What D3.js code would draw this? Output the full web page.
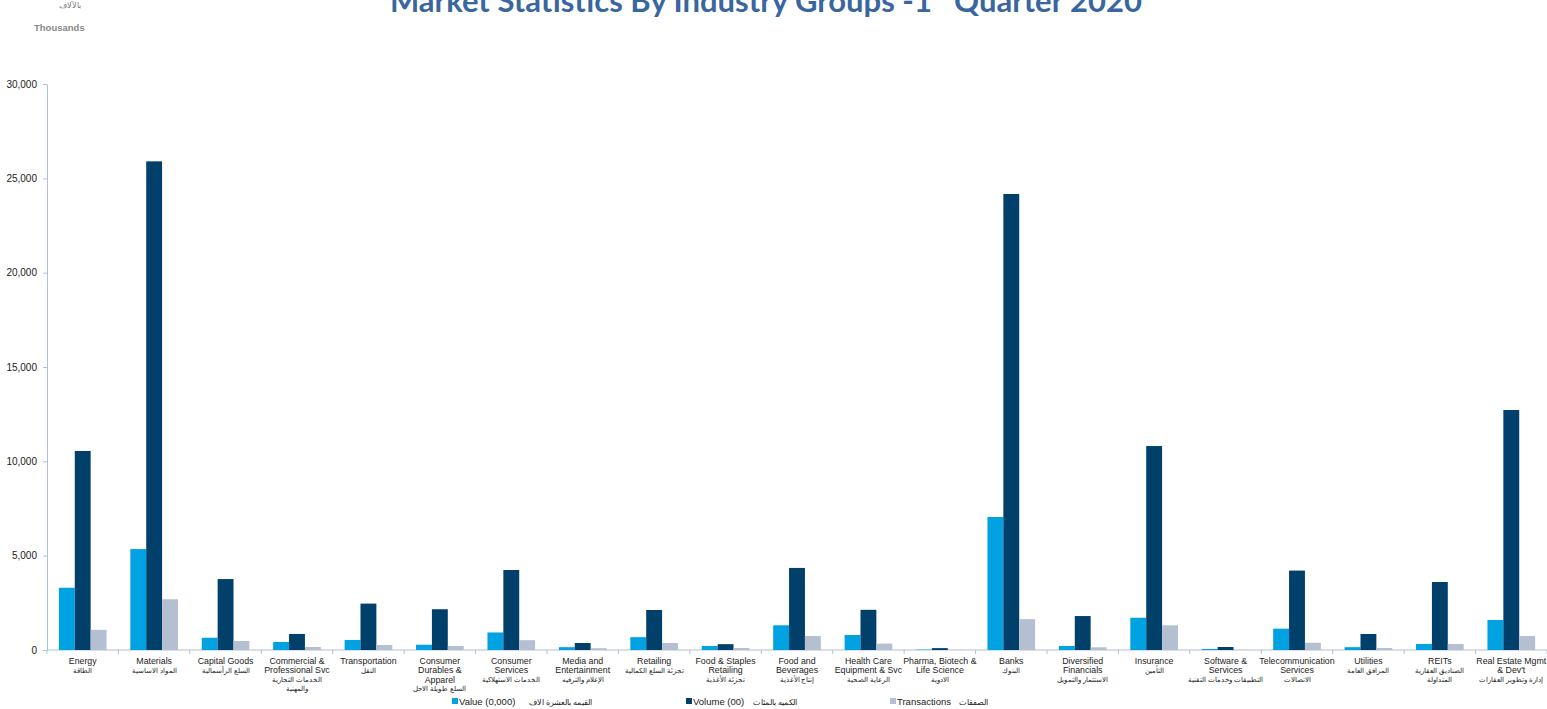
<!DOCTYPE html>
<html>
<head>
<meta charset="utf-8">
<script src="https://cdn.jsdelivr.net/npm/d3@7"></script>
<style>
  body { margin: 0; background: #fff; }
  svg { display: block; font-family: "Liberation Sans", Arial, sans-serif; }
  .axis path, .axis line { stroke: #b3bfd3; }
  .yAxis text { font-size: 10px; fill: #222; }
</style>
</head>
<body>
<div class="chart"></div>
<script>
// category labels: english lines / arabic lines
const catEn = [
  ["Energy"], ["Materials"], ["Capital Goods"], ["Commercial &", "Professional Svc"],
  ["Transportation"], ["Consumer", "Durables &", "Apparel"], ["Consumer", "Services"],
  ["Media and", "Entertainment"], ["Retailing"], ["Food & Staples", "Retailing"],
  ["Food and", "Beverages"], ["Health Care", "Equipment & Svc"], ["Pharma, Biotech &", "Life Science"],
  ["Banks"], ["Diversified", "Financials"], ["Insurance"], ["Software &", "Services"],
  ["Telecommunication", "Services"], ["Utilities"], ["REITs"], ["Real Estate Mgmt", "& Dev't"]
];
const catAr = [
  ["الطاقة"], ["المواد الاساسية"], ["السلع الرأسمالية"], ["الخدمات التجارية", "والمهنية"],
  ["النقل"], ["السلع طويلة الاجل"], ["الخدمات الاستهلاكية"],
  ["الإعلام والترفيه"], ["تجزئة السلع الكمالية"], ["تجزئة الأغذية"],
  ["إنتاج الأغذية"], ["الرعاية الصحية"], ["الادوية"],
  ["البنوك"], ["الاستثمار والتمويل"], ["التأمين"], ["التطبيقات وخدمات التقنية"],
  ["الاتصالات"], ["المرافق العامة"], ["الصناديق العقارية", "المتداولة"], ["إدارة وتطوير العقارات"]
];

// thousands
const valueData = [3300, 5350, 650, 424, 530, 280, 930, 150, 680, 212, 1310, 795, 20, 7050, 212, 1710, 53, 1130, 150, 318, 1590];
const volumeData = [10550, 25900, 3760, 850, 2460, 2160, 4240, 371, 2120, 310, 4350, 2130, 100, 24170, 1800, 10810, 159, 4210, 848, 3604, 12720];
const transData = [1070, 2690, 477, 160, 265, 212, 520, 95, 371, 106, 742, 340, 10, 1635, 143, 1309, 10, 385, 106, 318, 742];

const seriesNames = ["value", "volume", "trans"];
const legendEn = ["Value  (0,000)", "Volume (00)", "Transactions"];
const legendAr = ["القيمه بالعشرة الاف", "الكميه بالمئات", "الصفقات"];
const yTicks = [0, 5000, 10000, 15000, 20000, 25000, 30000];

const colours = { value: "#00a2e2", volume: "#00406b", trans: "#b5bfd2" };

const width = 1547, height = 709;
const margin = { top: 84, right: 0, bottom: 59, left: 47 };

let svg = d3.select(".chart").append("svg")
  .attr("width", width)
  .attr("height", height);

let rows = catEn.map((c, i) => ({
  i: i,
  value: valueData[i],
  volume: volumeData[i],
  trans: transData[i]
}));

let x0 = d3.scaleBand()
  .domain(d3.range(catEn.length))
  .range([margin.left, width - margin.right])
  .paddingInner(0.333)
  .paddingOuter(0.1665);

let x1 = d3.scaleBand()
  .domain(seriesNames)
  .range([0, x0.bandwidth()]);

let y = d3.scaleLinear()
  .domain([0, 30000])
  .range([height - margin.bottom, margin.top]);

// title (cut by the top edge like the source)
let title = svg.append("text")
  .attr("x", 766)
  .attr("y", 12)
  .style("text-anchor", "middle")
  .style("font-family", "Lato, 'Open Sans', sans-serif")
  .style("font-weight", "bold")
  .style("font-size", "31px")
  .style("fill", "#3a66a0");
title.append("tspan").text("Market Statistics By Industry Groups -1");
title.append("tspan").attr("dy", -12).style("font-size", "18px").text("st");
title.append("tspan").attr("dy", 12).text(" Quarter 2020");

svg.append("text")
  .attr("x", 70).attr("y", 8)
  .style("text-anchor", "middle")
  .style("font-size", "7.5px")
  .style("fill", "#777")
  .text("بالآلاف");

svg.append("text")
  .attr("x", 34).attr("y", 31)
  .style("font-size", "9.5px")
  .style("font-weight", "bold")
  .style("fill", "#888")
  .text("Thousands");

// axes
svg.append("g")
  .attr("class", "axis yAxis")
  .attr("transform", `translate(${margin.left},0)`)
  .call(d3.axisLeft(y).tickValues(yTicks).tickSize(4).tickSizeOuter(0).tickPadding(6).tickFormat(d3.format(",")));

let xAxis = svg.append("g")
  .attr("class", "axis xAxis")
  .attr("transform", `translate(0,${y(0)})`);
xAxis.append("line")
  .attr("x1", margin.left).attr("x2", width)
  .attr("y1", 0).attr("y2", 0);
xAxis.selectAll("line.tick")
  .data(d3.range(catEn.length + 1))
  .enter().append("line")
  .attr("class", "tick")
  .attr("x1", d => margin.left + d * x0.step())
  .attr("x2", d => margin.left + d * x0.step())
  .attr("y1", 0).attr("y2", 4);

// bars
let groups = svg.selectAll("g.group")
  .data(rows)
  .enter().append("g")
  .attr("class", "group")
  .attr("transform", d => `translate(${x0(d.i)},0)`);

groups.selectAll("rect")
  .data(d => seriesNames.map(k => ({ key: k, v: d[k] })))
  .enter().append("rect")
  .attr("x", d => x1(d.key))
  .attr("width", x1.bandwidth())
  .attr("y", d => y(d.v))
  .attr("height", d => y(0) - y(d.v))
  .style("fill", d => colours[d.key]);

// category labels
let labels = svg.selectAll("g.catLabel")
  .data(rows)
  .enter().append("g")
  .attr("class", "catLabel")
  .attr("transform", d => `translate(${x0(d.i) + x0.bandwidth() / 2},0)`);

labels.each(function (d) {
  let g = d3.select(this);
  let lineY = 664;
  catEn[d.i].forEach(t => {
    g.append("text").attr("y", lineY)
      .style("text-anchor", "middle")
      .style("font-size", "8.8px")
      .style("fill", "#222")
      .text(t);
    lineY += 9.3;
  });
  lineY -= 0.6;
  catAr[d.i].forEach(t => {
    g.append("text").attr("y", lineY)
      .attr("direction", "rtl")
      .style("text-anchor", "middle")
      .style("font-size", "7.2px")
      .style("fill", "#222")
      .text(t);
    lineY += 9.3;
  });
});

// legend
const legendX = [452, 686, 890];
const legendArX = [592, 797, 988];
let legend = svg.selectAll("g.legend")
  .data(seriesNames)
  .enter().append("g")
  .attr("class", "legend");

legend.append("rect")
  .attr("x", (d, i) => legendX[i])
  .attr("y", 698)
  .attr("width", 6).attr("height", 6)
  .style("fill", d => colours[d]);

legend.append("text")
  .attr("x", (d, i) => legendX[i] + 7)
  .attr("y", 705)
  .style("font-size", "9.5px")
  .style("fill", "#222")
  .text((d, i) => legendEn[i]);

legend.append("text")
  .attr("x", (d, i) => legendArX[i])
  .attr("y", 705)
  .attr("direction", "rtl")
  .style("text-anchor", "start")
  .style("font-size", "7.5px")
  .style("fill", "#222")
  .text((d, i) => legendAr[i]);
</script>
</body>
</html>
